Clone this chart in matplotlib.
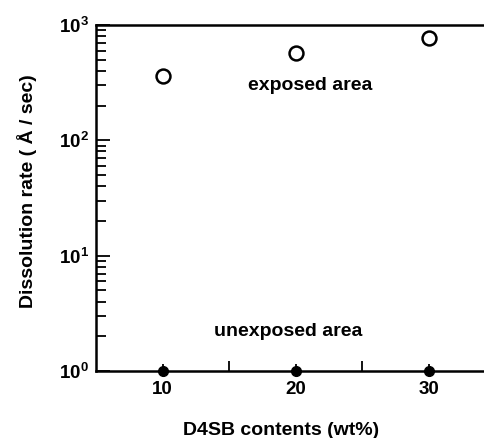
import matplotlib
matplotlib.use("Agg")
import matplotlib.pyplot as plt
from matplotlib.ticker import FixedLocator, LogLocator, LogFormatterMathtext

plt.rcParams['font.family'] = ['Liberation Sans', 'DejaVu Sans']
plt.rcParams['font.weight'] = 'bold'
plt.rcParams['axes.labelweight'] = 'bold'
plt.rcParams['mathtext.fontset'] = 'custom'
plt.rcParams['mathtext.rm'] = 'Liberation Sans:bold'
plt.rcParams['mathtext.it'] = 'Liberation Sans:bold'
plt.rcParams['mathtext.bf'] = 'Liberation Sans:bold'

# data
contents = [10, 20, 30]
exposed_rate = [361, 572, 771]
unexposed_rate = [1.0, 1.0, 1.0]

fig = plt.figure(figsize=(4.85, 4.38), dpi=100)
ax = fig.add_axes([0.198, 0.153, 0.802, 0.790])

# exposed: open circles, unexposed: filled dots on the axis
ax.plot(contents, exposed_rate, 'o', mfc='white', mec='black', mew=1.8,
        ms=10, clip_on=False, zorder=5)
ax.plot(contents, unexposed_rate, 'o', color='black', ms=7,
        clip_on=False, zorder=5)

ax.set_yscale('log')
ax.set_ylim(1, 1000)
ax.set_xlim(5, 34.2)

ax.xaxis.set_major_locator(FixedLocator([10, 20, 30]))
ax.xaxis.set_minor_locator(FixedLocator([15, 25]))
ax.yaxis.set_major_locator(LogLocator(base=10, numticks=10))
ax.yaxis.set_minor_locator(LogLocator(base=10, subs=range(2, 10), numticks=20))
ax.yaxis.set_major_formatter(LogFormatterMathtext())

ax.tick_params(which='both', direction='in', width=1.3, labelsize=13.5)
ax.tick_params(axis='y', which='major', length=10, pad=5)
ax.tick_params(axis='y', which='minor', length=7)
ax.tick_params(axis='x', which='major', length=5, pad=7)
ax.tick_params(axis='x', which='minor', length=7)

for side in ['left', 'bottom', 'top']:
    ax.spines[side].set_linewidth(1.8)
ax.spines['right'].set_visible(False)

ax.text(21.05, 296, 'exposed area', ha='center', va='center', fontsize=14)
ax.text(19.4, 2.22, 'unexposed area', ha='center', va='center', fontsize=14)

ax.set_xlabel('D4SB contents (wt%)', fontsize=14)
ax.set_ylabel('Dissolution rate ( Å / sec)', fontsize=14)
ax.xaxis.set_label_coords(0.476, -0.147)
ax.yaxis.set_label_coords(-0.152, 0.52)

plt.savefig('out.png', dpi=100)
